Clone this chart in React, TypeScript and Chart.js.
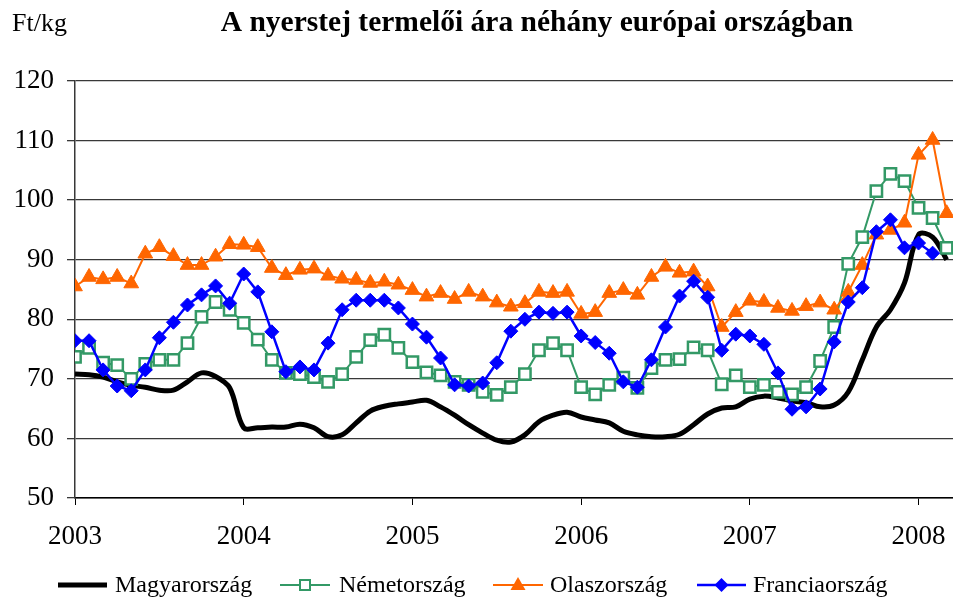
import React, { useEffect, useRef } from 'react';
import { Chart, registerables } from 'chart.js';

Chart.register(...registerables);

const yearLabels = ['2003', '2004', '2005', '2006', '2007', '2008'];
const firstYear = 2003;

const magyarorszag = [
  70.8, 70.7, 70.3, 69.5, 68.9, 68.6, 68.1, 68.1, 69.5, 71.0, 70.4, 68.5,
  61.8, 61.8, 61.9, 61.9, 62.4, 61.8, 60.3, 60.6, 62.6, 64.6, 65.4, 65.8,
  66.1, 66.4, 65.3, 63.9, 62.3, 60.9, 59.7, 59.4, 60.6, 62.8, 63.9, 64.4,
  63.6, 63.1, 62.6, 61.2, 60.6, 60.3, 60.3, 60.7, 62.3, 64.1, 65.1, 65.3,
  66.6, 67.1, 66.8, 66.3, 66.0, 65.3, 65.6, 67.8, 73.2, 78.7, 81.6, 86.1,
  94.2, 93.8, 90.0,
];

const nemetorszag = [
  73.7, 75.2, 72.7, 72.3, 70.0, 72.5, 73.2, 73.2, 76.0, 80.4, 82.9, 81.6,
  79.4, 76.6, 73.2, 71.0, 70.8, 70.3, 69.5, 70.8, 73.7, 76.5, 77.4, 75.2,
  72.8, 71.1, 70.6, 69.5, 69.0, 67.8, 67.3, 68.6, 70.8, 74.8, 76.0, 74.8,
  68.6, 67.4, 69.0, 70.2, 68.5, 71.8, 73.2, 73.3, 75.3, 74.8, 69.1, 70.6,
  68.6, 69.0, 67.8, 67.4, 68.6, 73.0, 78.7, 89.3, 93.8, 101.5, 104.4, 103.2,
  98.7, 97.0, 92.0,
];

const olaszorszag = [
  85.5, 87.1, 86.7, 87.1, 86.0, 91.0, 92.1, 90.6, 89.1, 89.1, 90.5, 92.6,
  92.5, 92.1, 88.6, 87.4, 88.3, 88.5, 87.3, 86.8, 86.6, 86.1, 86.3, 85.8,
  84.9, 83.8, 84.4, 83.4, 84.6, 83.8, 82.8, 82.1, 82.7, 84.6, 84.4, 84.6,
  80.9, 81.2, 84.4, 84.9, 84.1, 87.1, 88.8, 87.8, 88.0, 85.5, 78.7, 81.2,
  83.1, 82.9, 81.9, 81.4, 82.2, 82.8, 81.6, 84.6, 89.1, 94.2, 95.0, 96.2,
  107.6, 110.1, 97.8,
];

const franciaorszag = [
  76.4, 76.4, 71.5, 68.8, 68.0, 71.5, 76.9, 79.5, 82.4, 84.1, 85.6, 82.7,
  87.6, 84.6, 77.9, 71.2, 72.0, 71.5, 76.0, 81.6, 83.2, 83.2, 83.2, 81.9,
  79.2, 77.0, 73.5, 69.0, 68.8, 69.3, 72.7, 78.0, 80.0, 81.2, 81.0, 81.2,
  77.2, 76.1, 74.3, 69.5, 68.6, 73.2, 78.7, 83.9, 86.4, 83.7, 74.8, 77.5,
  77.2, 75.8, 71.0, 64.9, 65.3, 68.3, 76.2, 82.9, 85.3, 94.7, 96.7, 92.0,
  92.8, 91.1,
];

const titleText = 'A nyerstej termelői ára néhány európai országban';
const unitText = 'Ft/kg';
const seriesNames = ['Magyarország', 'Németország', 'Olaszország', 'Franciaország'];

const toPoints = (arr: number[]) => arr.map((v, i) => ({ x: i, y: v }));

const SERIF = '"Liberation Serif", "Times New Roman", serif';

function drawMarker(ctx: CanvasRenderingContext2D, kind: string, x: number, y: number, color: string) {
  ctx.save();
  if (kind === 'square') {
    ctx.fillStyle = '#fff';
    ctx.strokeStyle = color;
    ctx.lineWidth = 2;
    ctx.fillRect(x - 5, y - 5, 10, 10);
    ctx.strokeRect(x - 5, y - 5, 10, 10);
  } else if (kind === 'triangle') {
    ctx.fillStyle = color;
    ctx.beginPath();
    ctx.moveTo(x, y - 8);
    ctx.lineTo(x + 7.5, y + 5);
    ctx.lineTo(x - 7.5, y + 5);
    ctx.closePath();
    ctx.fill();
  } else if (kind === 'diamond') {
    ctx.fillStyle = color;
    ctx.beginPath();
    ctx.moveTo(x, y - 7);
    ctx.lineTo(x + 7, y);
    ctx.lineTo(x, y + 7);
    ctx.lineTo(x - 7, y);
    ctx.closePath();
    ctx.fill();
  }
  ctx.restore();
}

const textPlugin = {
  id: 'textPlugin',
  afterDraw(chart: any) {
    const ctx: CanvasRenderingContext2D = chart.ctx;
    ctx.save();
    ctx.fillStyle = '#000';
    ctx.textBaseline = 'alphabetic';
    ctx.font = `bold 29.5px ${SERIF}`;
    ctx.textAlign = 'center';
    ctx.fillText(titleText, 537, 31);
    ctx.font = `26px ${SERIF}`;
    ctx.textAlign = 'left';
    ctx.fillText(unitText, 12, 31);

    const legendY = 585;
    const items = [
      { name: seriesNames[0], color: '#000000', width: 5, marker: '', x0: 58, x1: 107, tx: 115 },
      { name: seriesNames[1], color: '#339966', width: 2, marker: 'square', x0: 280, x1: 330, tx: 339 },
      { name: seriesNames[2], color: '#FF6600', width: 2, marker: 'triangle', x0: 493, x1: 543, tx: 550 },
      { name: seriesNames[3], color: '#0000FF', width: 2.5, marker: 'diamond', x0: 697, x1: 746, tx: 753 },
    ];
    ctx.font = `24px ${SERIF}`;
    ctx.textBaseline = 'middle';
    for (const it of items) {
      ctx.strokeStyle = it.color;
      ctx.lineWidth = it.width;
      ctx.beginPath();
      ctx.moveTo(it.x0, legendY);
      ctx.lineTo(it.x1, legendY);
      ctx.stroke();
      if (it.marker) drawMarker(ctx, it.marker, (it.x0 + it.x1) / 2, legendY, it.color);
      ctx.fillStyle = '#000';
      ctx.fillText(it.name, it.tx, legendY + 1);
    }
    ctx.restore();
  },
};

export default function App() {
  const canvasRef = useRef<HTMLCanvasElement | null>(null);

  useEffect(() => {
    if (!canvasRef.current) return;
    const chart = new Chart(canvasRef.current, {
      type: 'line',
      data: {
        datasets: [
          {
            label: seriesNames[0],
            data: toPoints(magyarorszag),
            borderColor: '#000000',
            borderWidth: 5,
            pointRadius: 0,
            tension: 0.35,
            order: 4,
          },
          {
            label: seriesNames[1],
            data: toPoints(nemetorszag),
            borderColor: '#339966',
            borderWidth: 2,
            pointStyle: 'rect',
            pointRadius: 8,
            pointBorderWidth: 2.5,
            pointBackgroundColor: '#ffffff',
            pointBorderColor: '#339966',
            tension: 0,
            order: 3,
          },
          {
            label: seriesNames[2],
            data: toPoints(olaszorszag),
            borderColor: '#FF6600',
            borderWidth: 2,
            pointStyle: 'triangle',
            pointRadius: 8.5,
            pointBorderWidth: 1,
            pointBackgroundColor: '#FF6600',
            pointBorderColor: '#FF6600',
            tension: 0,
            order: 2,
          },
          {
            label: seriesNames[3],
            data: toPoints(franciaorszag),
            borderColor: '#0000FF',
            borderWidth: 2.5,
            pointStyle: 'rectRot',
            pointRadius: 7,
            pointBorderWidth: 1,
            pointBackgroundColor: '#0000FF',
            pointBorderColor: '#0000FF',
            tension: 0,
            order: 1,
          },
        ],
      },
      options: {
        animation: false,
        responsive: true,
        maintainAspectRatio: false,
        layout: { autoPadding: false, padding: { top: 81, left: 0.5, right: 0, bottom: 33.6 } },
        plugins: {
          legend: { display: false },
          title: { display: false },
          tooltip: { enabled: false },
        },
        scales: {
          x: {
            type: 'linear',
            min: 0,
            max: 62.45,
            afterBuildTicks: (scale: any) => {
              scale.ticks = yearLabels.map((_, i) => ({ value: i * 12 }));
            },
            afterFit: (scale: any) => {
              scale.paddingRight = 0;
              scale.paddingLeft = 0;
            },
            ticks: {
              autoSkip: false,
              maxRotation: 0,
              padding: 16,
              color: '#000',
              font: { family: SERIF, size: 27 },
              callback: (v: any) => String(firstYear + Math.round(Number(v) / 12)),
            },
            grid: {
              drawOnChartArea: false,
              drawTicks: true,
              tickLength: 7,
              color: '#000',
              lineWidth: 1,
            },
            border: { display: true, color: '#000', width: 1.5 },
          },
          y: {
            min: 50,
            max: 120,
            ticks: {
              stepSize: 10,
              padding: 13,
              color: '#000',
              font: { family: SERIF, size: 27 },
            },
            grid: {
              color: '#383838',
              lineWidth: 1.3,
              tickLength: 8,
              drawTicks: true,
            },
            border: { display: true, color: '#383838', width: 1.5 },
          },
        },
      },
      plugins: [textPlugin],
    } as any);
    return () => chart.destroy();
  }, []);

  return (
    <div style={{ position: 'fixed', left: 0, top: 0, width: 953, height: 603, background: '#fff' }}>
      <canvas ref={canvasRef} />
    </div>
  );
}
